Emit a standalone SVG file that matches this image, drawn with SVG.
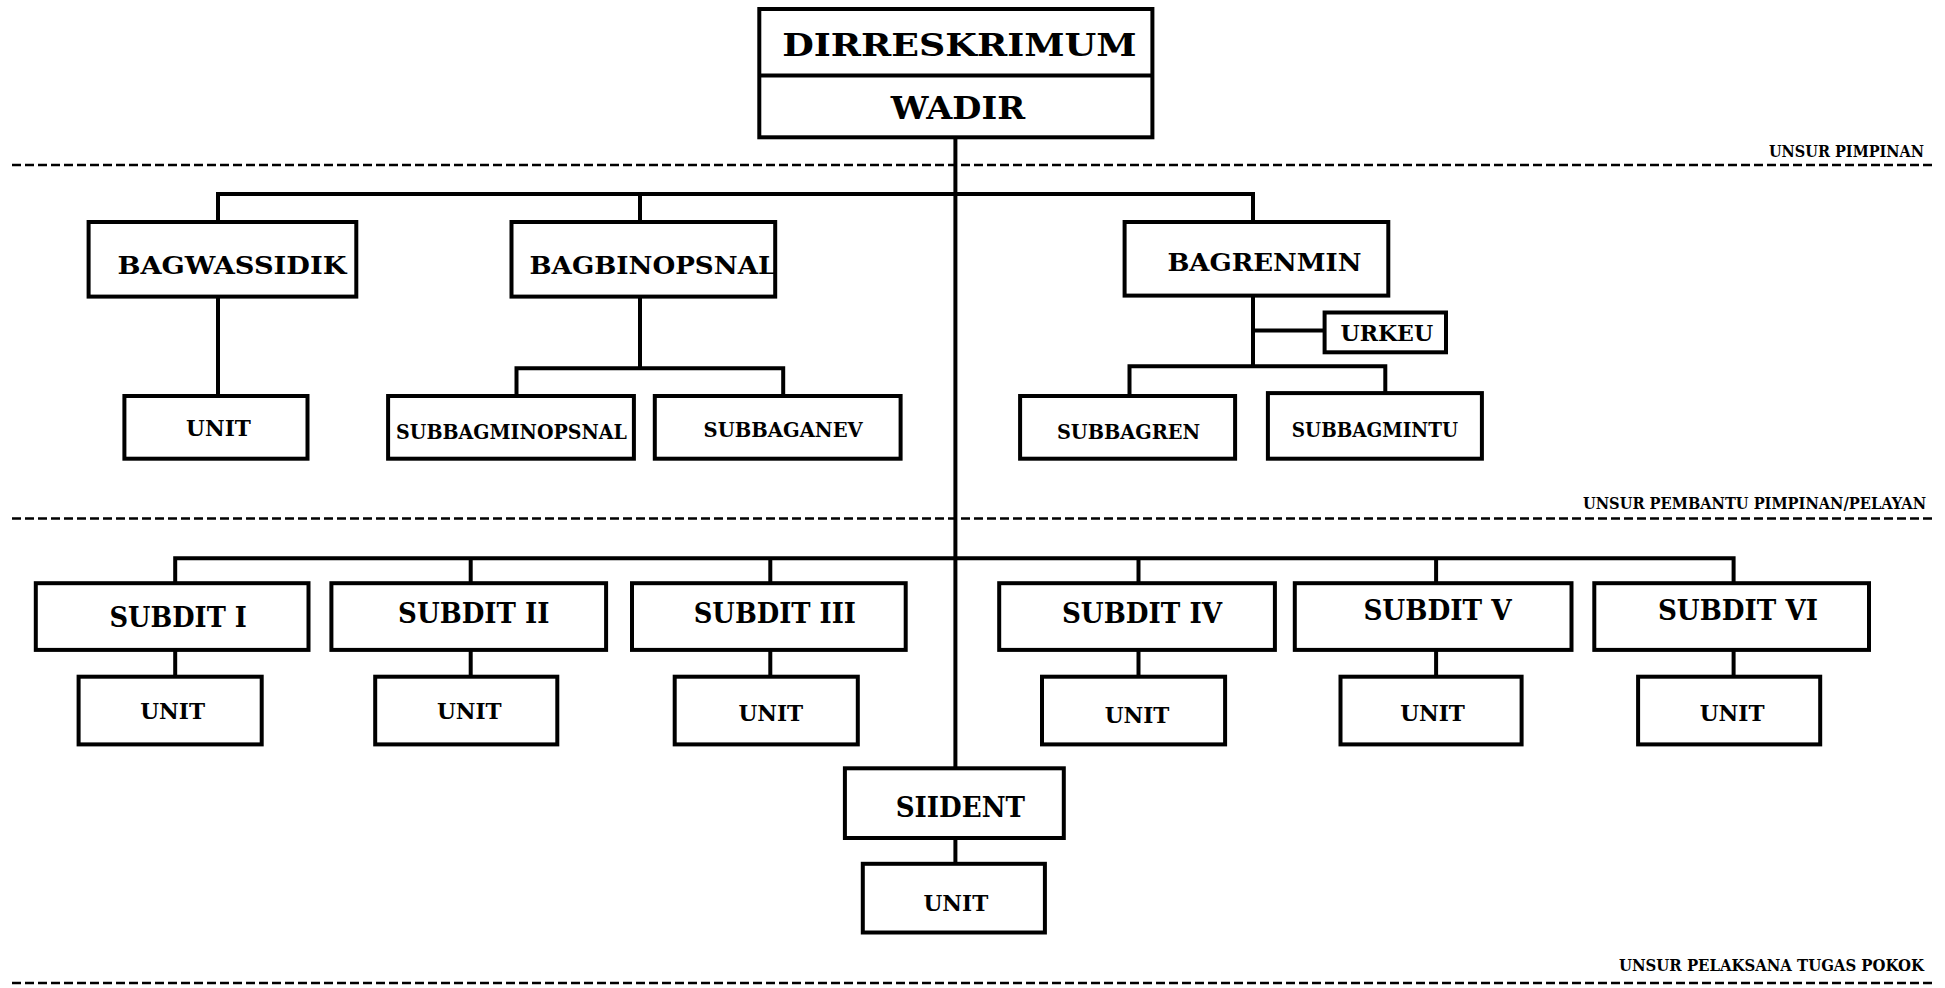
<svg xmlns="http://www.w3.org/2000/svg" width="1945" height="988" viewBox="0 0 1945 988">
<style>
.box{fill:#fff;stroke:#000;stroke-width:4}
.ln{fill:none;stroke:#000;stroke-width:4}
.dash{fill:none;stroke:#000;stroke-width:2.5;stroke-dasharray:9 4}
text{font-family:"DejaVu Serif","Liberation Serif",serif;font-weight:bold;fill:#000}
.t1{font-size:32px}
.t2{font-size:25px}
.t5{font-size:27px}
.t3{font-size:21px}
.t4{font-size:22.5px}
.lab{font-size:16px}
</style>
<rect width="1945" height="988" fill="#fff"/>

<g id="dividers">
<line class="dash" x1="12" y1="165" x2="1933" y2="165"/>
<line class="dash" x1="12" y1="518.5" x2="1933" y2="518.5"/>
<line class="dash" x1="12" y1="983" x2="1933" y2="983"/>
<text class="lab" x="1769" y="157" textLength="155" lengthAdjust="spacingAndGlyphs">UNSUR PIMPINAN</text>
<text class="lab" x="1583" y="508.5" textLength="343" lengthAdjust="spacingAndGlyphs">UNSUR PEMBANTU PIMPINAN/PELAYAN</text>
<text class="lab" x="1619" y="971" textLength="305" lengthAdjust="spacingAndGlyphs">UNSUR PELAKSANA TUGAS POKOK</text>
</g>

<g id="connectors">
<line class="ln" x1="955.4" y1="137.3" x2="955.4" y2="768.3"/>
<polyline class="ln" points="218,222 218,194 1253,194 1253,222"/>
<line class="ln" x1="640" y1="194" x2="640" y2="222"/>
<line class="ln" x1="218" y1="296.6" x2="218" y2="396"/>
<line class="ln" x1="640" y1="296.6" x2="640" y2="368.2"/>
<polyline class="ln" points="516.5,396 516.5,368.2 783.2,368.2 783.2,396"/>
<line class="ln" x1="1253" y1="295.6" x2="1253" y2="366.2"/>
<line class="ln" x1="1253" y1="330.4" x2="1324.6" y2="330.4"/>
<polyline class="ln" points="1129.5,396 1129.5,366.2 1385.3,366.2 1385.3,393.1"/>
<polyline class="ln" points="175.2,583.2 175.2,558.3 1733.6,558.3 1733.6,583.2"/>
<line class="ln" x1="470.7" y1="558.3" x2="470.7" y2="583.2"/>
<line class="ln" x1="770.3" y1="558.3" x2="770.3" y2="583.2"/>
<line class="ln" x1="1138.5" y1="558.3" x2="1138.5" y2="583.2"/>
<line class="ln" x1="1436.1" y1="558.3" x2="1436.1" y2="583.2"/>
<line class="ln" x1="175.2" y1="649.9" x2="175.2" y2="676.7"/>
<line class="ln" x1="470.7" y1="649.9" x2="470.7" y2="676.7"/>
<line class="ln" x1="770.3" y1="649.9" x2="770.3" y2="676.7"/>
<line class="ln" x1="1138.5" y1="649.9" x2="1138.5" y2="676.7"/>
<line class="ln" x1="1436.1" y1="649.9" x2="1436.1" y2="676.7"/>
<line class="ln" x1="1733.6" y1="649.9" x2="1733.6" y2="676.7"/>
<line class="ln" x1="955.4" y1="838" x2="955.4" y2="863.8"/>
</g>

<g id="dirreskrimum">
<rect class="box" x="759.3" y="9" width="393.1" height="128.3"/>
<line class="ln" x1="759.3" y1="75.6" x2="1152.4" y2="75.6"/>
<text class="t1" x="782.2" y="55.7" textLength="354.3" lengthAdjust="spacingAndGlyphs">DIRRESKRIMUM</text>
<text class="t1" x="890.7" y="119.4" textLength="134.4" lengthAdjust="spacingAndGlyphs" font-size="29">WADIR</text>
</g>

<g id="bagwassidik">
<rect class="box" x="88.6" y="222" width="267.7" height="74.6"/>
<text class="t2" x="117.4" y="273.7" textLength="229" lengthAdjust="spacingAndGlyphs">BAGWASSIDIK</text>
</g>
<g id="bagbinopsnal">
<rect class="box" x="511.5" y="222" width="263.7" height="74.6"/>
<text class="t2" x="529.5" y="273.7" textLength="246.8" lengthAdjust="spacingAndGlyphs">BAGBINOPSNAL</text>
</g>
<g id="bagrenmin">
<rect class="box" x="1124.6" y="222" width="263.7" height="73.6"/>
<text class="t2" x="1167.4" y="270.7" textLength="194" lengthAdjust="spacingAndGlyphs">BAGRENMIN</text>
</g>

<g id="unit-bagwassidik">
<rect class="box" x="124.4" y="396" width="183.1" height="62.7"/>
<text class="t4" x="186.1" y="435.9" textLength="64.7" lengthAdjust="spacingAndGlyphs">UNIT</text>
</g>
<g id="subbagminopsnal">
<rect class="box" x="388.1" y="396" width="245.8" height="62.7"/>
<text class="t3" x="396.1" y="438.9" textLength="230.9" lengthAdjust="spacingAndGlyphs">SUBBAGMINOPSNAL</text>
</g>
<g id="subbaganev">
<rect class="box" x="654.8" y="396" width="245.8" height="62.7"/>
<text class="t3" x="703.6" y="436.9" textLength="159.2" lengthAdjust="spacingAndGlyphs">SUBBAGANEV</text>
</g>
<g id="urkeu">
<rect class="box" x="1324.6" y="312.5" width="121.4" height="39.8"/>
<text class="t4" x="1340.5" y="341.4" textLength="92.6" lengthAdjust="spacingAndGlyphs">URKEU</text>
</g>
<g id="subbagren">
<rect class="box" x="1020.1" y="396" width="215" height="62.7"/>
<text class="t3" x="1056.9" y="438.9" textLength="143.3" lengthAdjust="spacingAndGlyphs">SUBBAGREN</text>
</g>
<g id="subbagmintu">
<rect class="box" x="1267.9" y="393.1" width="214" height="65.6"/>
<text class="t3" x="1291.8" y="436.9" textLength="166.2" lengthAdjust="spacingAndGlyphs">SUBBAGMINTU</text>
</g>

<g id="subdit-1">
<rect class="box" x="35.8" y="583.2" width="272.7" height="66.7"/>
<text class="t5" x="109.5" y="627" textLength="137.3" lengthAdjust="spacingAndGlyphs">SUBDIT I</text>
</g>
<g id="subdit-2">
<rect class="box" x="331.4" y="583.2" width="274.7" height="66.7"/>
<text class="t5" x="398.1" y="623" textLength="151.3" lengthAdjust="spacingAndGlyphs">SUBDIT II</text>
</g>
<g id="subdit-3">
<rect class="box" x="632" y="583.2" width="273.7" height="66.7"/>
<text class="t5" x="693.7" y="623" textLength="162.2" lengthAdjust="spacingAndGlyphs">SUBDIT III</text>
</g>
<g id="subdit-4">
<rect class="box" x="999.2" y="583.2" width="275.7" height="66.7"/>
<text class="t5" x="1061.9" y="623" textLength="160.2" lengthAdjust="spacingAndGlyphs">SUBDIT IV</text>
</g>
<g id="subdit-5">
<rect class="box" x="1294.8" y="583.2" width="276.7" height="66.7"/>
<text class="t5" x="1363.4" y="620" textLength="148.3" lengthAdjust="spacingAndGlyphs">SUBDIT V</text>
</g>
<g id="subdit-6">
<rect class="box" x="1594.3" y="583.2" width="274.7" height="66.7"/>
<text class="t5" x="1657.9" y="620" textLength="160.2" lengthAdjust="spacingAndGlyphs">SUBDIT VI</text>
</g>

<g id="unit-1">
<rect class="box" x="78.6" y="676.7" width="183.1" height="67.7"/>
<text class="t4" x="140.3" y="718.5" textLength="64.7" lengthAdjust="spacingAndGlyphs">UNIT</text>
</g>
<g id="unit-2">
<rect class="box" x="375.2" y="676.7" width="182.1" height="67.7"/>
<text class="t4" x="436.9" y="718.5" textLength="64.7" lengthAdjust="spacingAndGlyphs">UNIT</text>
</g>
<g id="unit-3">
<rect class="box" x="674.7" y="676.7" width="183.1" height="67.7"/>
<text class="t4" x="738.4" y="720.5" textLength="64.7" lengthAdjust="spacingAndGlyphs">UNIT</text>
</g>
<g id="unit-4">
<rect class="box" x="1042" y="676.7" width="183.1" height="67.7"/>
<text class="t4" x="1104.7" y="722.5" textLength="64.7" lengthAdjust="spacingAndGlyphs">UNIT</text>
</g>
<g id="unit-5">
<rect class="box" x="1340.5" y="676.7" width="181.1" height="67.7"/>
<text class="t4" x="1400.2" y="720.5" textLength="64.7" lengthAdjust="spacingAndGlyphs">UNIT</text>
</g>
<g id="unit-6">
<rect class="box" x="1638.1" y="676.7" width="182.1" height="67.7"/>
<text class="t4" x="1699.8" y="720.5" textLength="64.7" lengthAdjust="spacingAndGlyphs">UNIT</text>
</g>

<g id="siident">
<rect class="box" x="844.9" y="768.3" width="218.9" height="69.7"/>
<text class="t5" x="895.7" y="816.6" textLength="129.4" lengthAdjust="spacingAndGlyphs">SIIDENT</text>
</g>
<g id="unit-siident">
<rect class="box" x="862.8" y="863.8" width="182.1" height="68.7"/>
<text class="t4" x="923.5" y="910.6" textLength="64.7" lengthAdjust="spacingAndGlyphs">UNIT</text>
</g>
</svg>
